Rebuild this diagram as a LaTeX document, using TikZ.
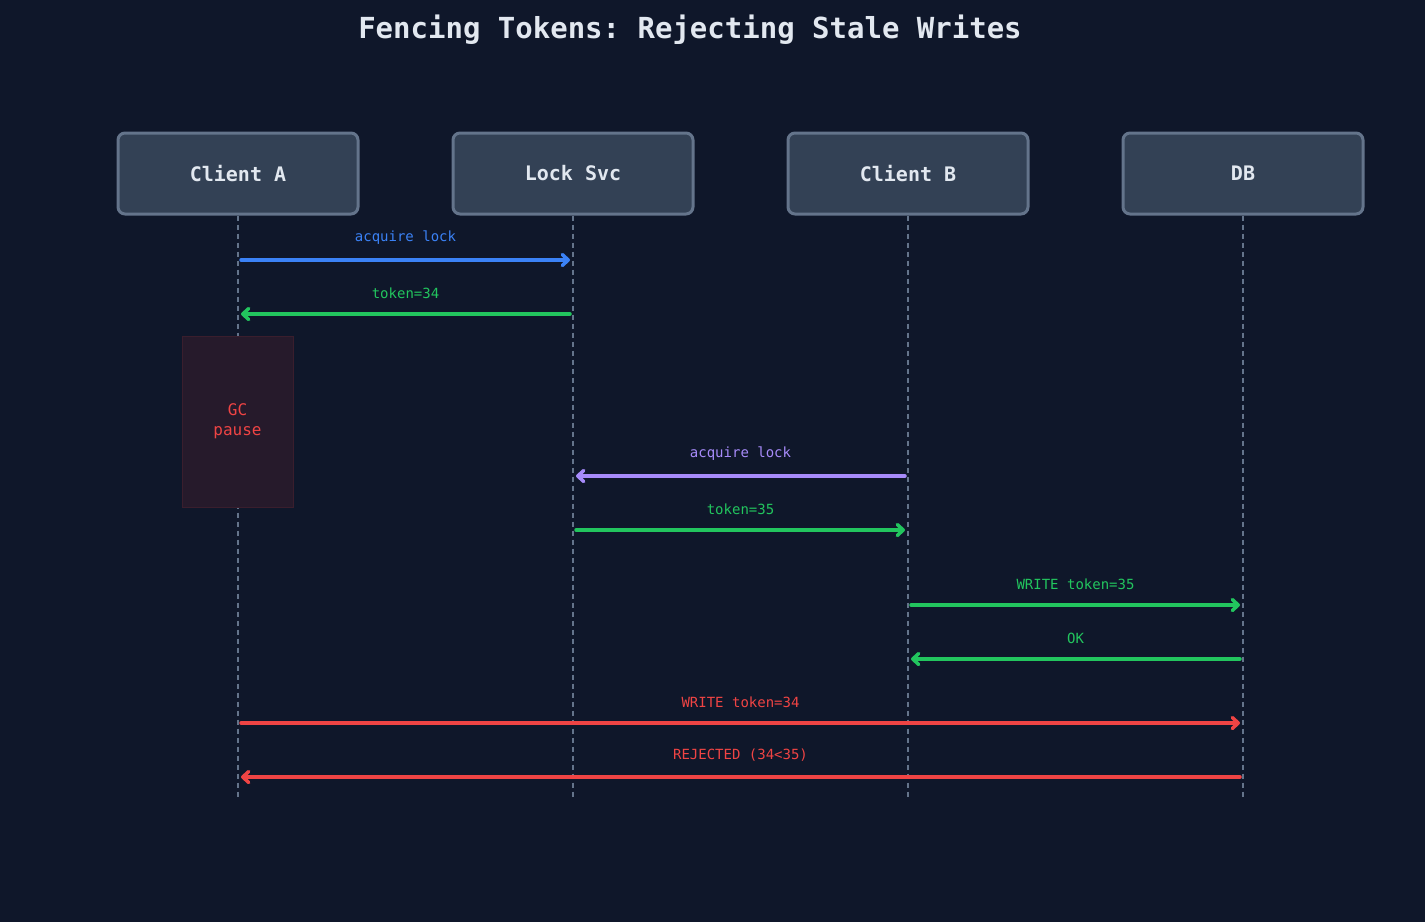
\documentclass[tikz,border=0pt]{standalone}
\usepackage{fontspec}
\setmonofont{DejaVu Sans Mono}
\usetikzlibrary{arrows.meta}
\definecolor{bg}{HTML}{0F172A}
\definecolor{boxf}{HTML}{334155}
\definecolor{boxd}{HTML}{64748B}
\definecolor{txt}{HTML}{E2E8F0}
\definecolor{cblue}{HTML}{3B82F6}
\definecolor{cgreen}{HTML}{22C55E}
\definecolor{cpurp}{HTML}{A78BFA}
\definecolor{cred}{HTML}{EF4444}
\begin{document}
\begin{tikzpicture}[x=1pt,y=-1pt,
 actor/.style={draw=boxd,fill=boxf,line width=3pt,rounded corners=7pt,minimum width=240pt,minimum height=81pt,text=txt,font=\ttfamily\bfseries\fontsize{20}{24}\selectfont},
 life/.style={draw=boxd,line width=1.5pt,dash pattern=on 5pt off 4pt},
 msg/.style={line width=3.5pt,-{Straight Barb[round,length=6pt,width=11pt]},line cap=round},
 lbl/.style={font=\ttfamily\fontsize{14}{16}\selectfont,inner sep=0pt}]
\fill[bg] (0,0) rectangle (1425,922);
\node[text=txt,font=\ttfamily\bfseries\fontsize{29}{34}\selectfont] (title) at (690,30) {Fencing Tokens: Rejecting Stale Writes};
\node[actor] (a) at (238,173.5) {Client A};
\node[actor] (l) at (573,173.5) {Lock Svc};
\node[actor] (b) at (908,173.5) {Client B};
\node[actor] (d) at (1243,173.5) {DB};
\foreach \n/\x in {a/238,l/573,b/908,d/1243}{
 \coordinate (\n e) at (\x,798);
 \draw[life] (\n.south) -- (\n e);}
\node[draw={rgb,255:red,58;green,30;blue,45},fill={rgb,255:red,38;green,26;blue,43},line width=1pt,minimum width=111pt,minimum height=171pt,align=center,text=cred,font=\ttfamily\fontsize{16}{20}\selectfont] (gc) at (237.5,421.5) {GC\\pause};
\foreach \y/\xa/\xb/\c/\t/\n in {
 260/241/570/cblue/acquire lock/m1,
 314/570/241/cgreen/token=34/m2,
 476/905/576/cpurp/acquire lock/m3,
 530/576/905/cgreen/token=35/m4,
 605/911/1240/cgreen/WRITE token=35/m5,
 659/1240/911/cgreen/OK/m6,
 723/241/1240/cred/WRITE token=34/m7,
 777/1240/241/cred/REJECTED (34<35)/m8}{
 \coordinate (\n s) at (\xa,\y);
 \coordinate (\n t) at (\xb,\y);
 \draw[msg,draw=\c] (\n s) -- (\n t) node[midway,above=14pt,lbl,text=\c] (\n l) {\t};}
\end{tikzpicture}
\end{document}
